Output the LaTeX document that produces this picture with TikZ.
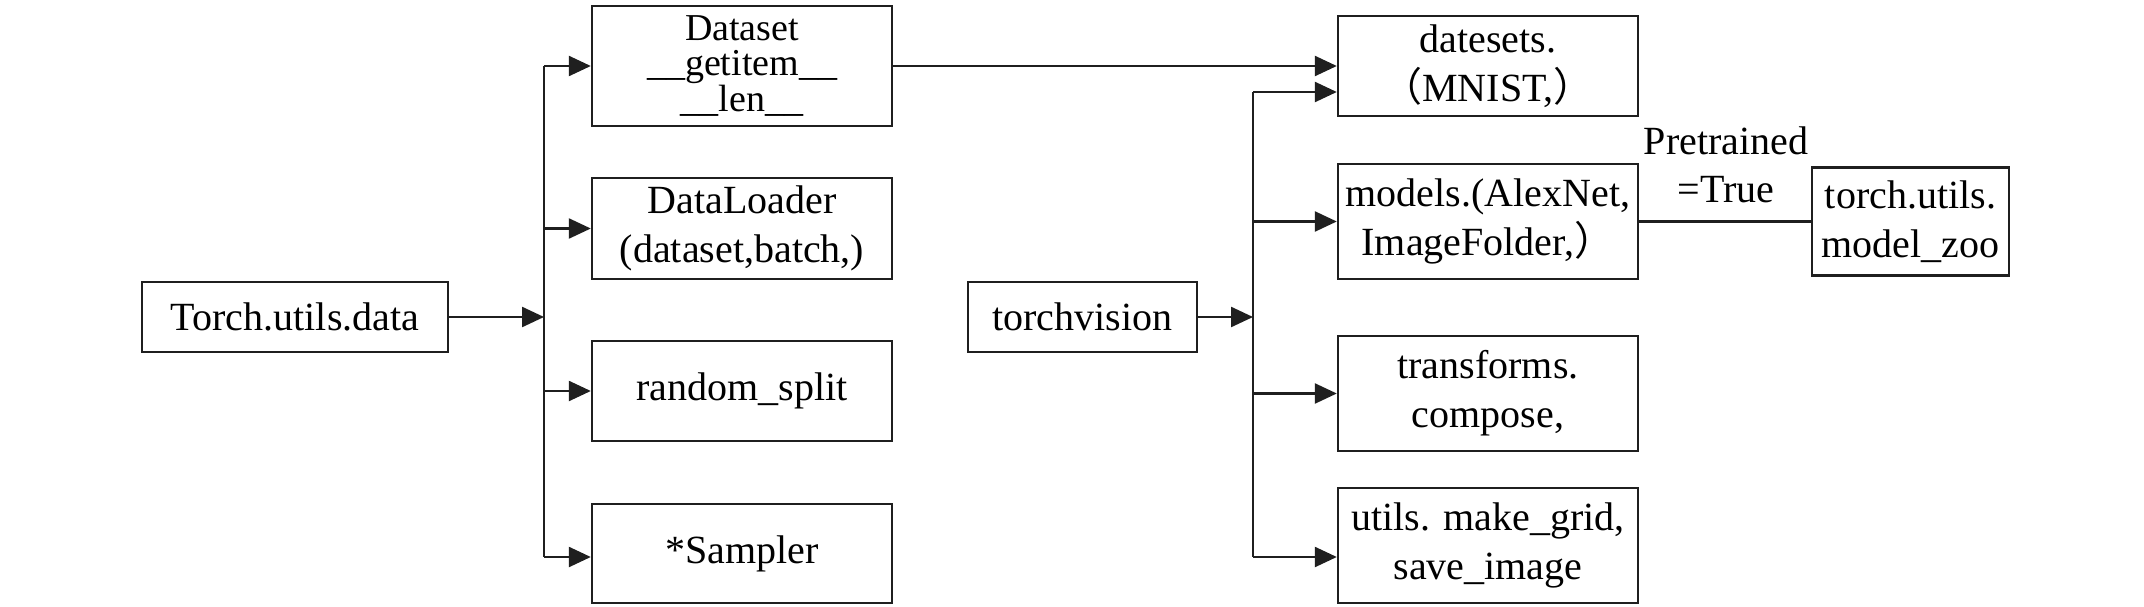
\documentclass[tikz,border=0pt]{standalone}
\usepackage{fontspec}
\setmainfont{Liberation Serif}
\newfontfamily\cjk{Noto Sans CJK SC}
\usetikzlibrary{arrows.meta}
\begin{document}
\begin{tikzpicture}[x=1pt,y=-1pt,
  box/.style={draw=black!88, line width=2.4pt, align=center, inner sep=0pt,
    font=\fontsize{40}{49}\selectfont},
  conn/.style={line width=2.4pt, draw=black!88},
  arr/.style={conn, -{Triangle[length=22pt,width=20pt]}},
  lbl/.style={inner sep=0pt, font=\fontsize{40}{49}\selectfont}]
\useasboundingbox[fill=white] (0,0) rectangle (2144,607);

% left group
\node[box, minimum width=306pt, minimum height=70pt] (tud) at (295,317) {Torch.utils.data};
\node[box, minimum width=300pt, minimum height=120pt,
  font=\fontsize{38}{35.5}\selectfont] (ds) at (742,66) {Dataset\\\_\_getitem\_\_\\\_\_len\_\_};
\node[box, minimum width=300pt, minimum height=101pt] (dl) at (742,228.5) {DataLoader\\(dataset,batch,)};
\node[box, minimum width=300pt, minimum height=100pt] (rs) at (742,391) {random\_split};
\node[box, minimum width=300pt, minimum height=99pt] (smp) at (742,553.5) {*Sampler};

% right group
\node[box, minimum width=229pt, minimum height=70pt] (tv) at (1082.5,317) {torchvision};
\node[box, minimum width=300pt, minimum height=100pt] (dsets) at (1488,66) {datesets.\\{\cjk（}MNIST,{\cjk）}};
\node[box, minimum width=300pt, minimum height=115pt] (mod) at (1488,221.5) {models.(AlexNet,\\ImageFolder,{\cjk）}};
\node[box, minimum width=300pt, minimum height=115pt] (tr) at (1488,393.5) {transforms.\\compose,};
\node[box, minimum width=300pt, minimum height=115pt] (ut) at (1488,545.5) {utils. make\_grid,\\save\_image};
\node[box, minimum width=197pt, minimum height=108pt] (zoo) at (1910.5,221.5) {torch.utils.\\model\_zoo};
\node[lbl] (pre) at (1726,141) {Pretrained};
\node[lbl] (tru) at (1726,190) {=True};

% left connectors
\coordinate (j1) at (544,317);
\coordinate (j1t) at (544,66);
\coordinate (j1b) at (544,557);
\draw[conn] (j1t) -- (j1b);
\draw[arr] (tud.east) -- (j1);
\draw[arr] (j1t) -- (ds.west);
\draw[arr] (j1 |- dl.west) -- (dl.west);
\draw[arr] (j1 |- rs.west) -- (rs.west);
\draw[arr] (j1b) -- (smp.west |- j1b);

% right connectors
\coordinate (j2) at (1253,317);
\coordinate (j2t) at (1253,92);
\coordinate (j2b) at (1253,557);
\draw[conn] (j2t) -- (j2b);
\draw[arr] (tv.east) -- (j2);
\draw[arr] (j2t) -- (dsets.west |- j2t);
\draw[arr] (j2 |- mod.west) -- (mod.west);
\draw[arr] (j2 |- tr.west) -- (tr.west);
\draw[arr] (j2b) -- (ut.west |- j2b);

\draw[arr] (ds.east) -- (dsets.west);
\draw[conn] (mod.east) -- (zoo.west);
\end{tikzpicture}
\end{document}
